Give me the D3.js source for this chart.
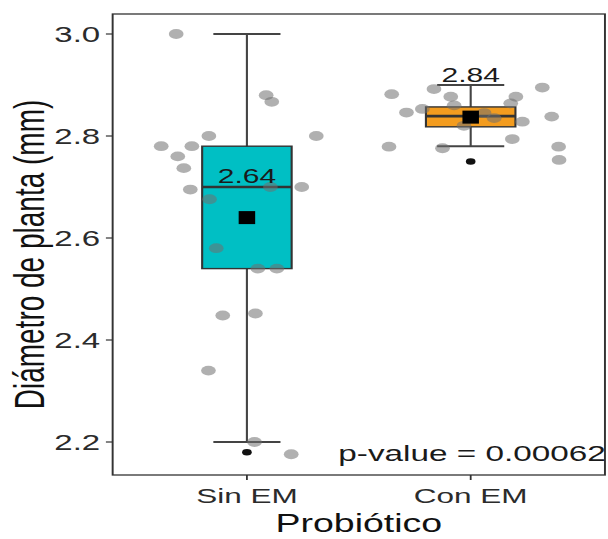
<!DOCTYPE html>
<html>
<head>
<meta charset="utf-8">
<script src="https://cdn.jsdelivr.net/npm/d3@7"></script>
<style>
  body { margin: 0; background: #fff; }
  text { font-family: "Liberation Sans", Arial, sans-serif; }
</style>
</head>
<body>
<div id="chart"></div>
<script>
  // groups and labels
  const groups = ["Sin EM", "Con EM"];
  const fills = ["#00BFC4", "#F39C1F"];
  const yTicks = [2.2, 2.4, 2.6, 2.8, 3.0];

  // raw observations (diameter, mm) and jitter offset (in group units)
  const sinValues = [3.00, 2.88, 2.867, 2.80, 2.80, 2.78, 2.78, 2.76, 2.737, 2.695, 2.70,
                     2.70, 2.676, 2.58, 2.54, 2.54, 2.448, 2.452, 2.34, 2.20, 2.176];
  const sinJitter = [-0.316, 0.086, 0.111, -0.17, 0.31, -0.383, -0.246, -0.309, -0.282, -0.253, 0.105,
                     0.245, -0.167, -0.137, 0.049, 0.134, -0.108, 0.038, -0.172, 0.034, 0.198];
  const conValues = [2.882, 2.892, 2.877, 2.877, 2.895, 2.846, 2.853, 2.864, 2.838, 2.828, 2.794,
                     2.779, 2.776, 2.779, 2.753, 2.86, 2.835, 2.82, 2.845];
  const conJitter = [-0.353, -0.164, -0.089, 0.202, 0.32, -0.287, -0.216, 0.179, 0.362, 0.231, 0.186,
                     -0.365, -0.126, 0.393, 0.395, -0.074, 0.105, -0.03, 0.06];

  // box summaries
  const q1 = [2.54, 2.818];
  const medians = [2.70, 2.839];
  const q3 = [2.78, 2.857];
  const whiskLo = [2.20, 2.78];
  const whiskHi = [3.00, 2.90];
  const means = [2.64, 2.837];
  const meanLabels = ["2.64", "2.84"];
  const outliers = [[2.18], [2.75]];
  const pText = "p-value = 0.00062";

  // the reference is stretched horizontally, so draw in a narrow frame and scale
  const SX = 1.5;
  const W = 608, H = 539;
  const panel = {left: 75.1, right: 403.3, top: 14, bottom: 475};

  const svg = d3.select("#chart").append("svg")
    .attr("width", W).attr("height", H);
  const g = svg.append("g").attr("transform", "scale(" + SX + ",1)");

  const x = d3.scalePoint().domain(groups)
    .range([panel.left, panel.right]).padding(0.6);
  const step = x.step();
  const y = d3.scaleLinear().domain([2.2, 3.0]).range([442, 34]);

  // panel
  g.append("rect")
    .attr("x", panel.left).attr("y", panel.top)
    .attr("width", panel.right - panel.left).attr("height", panel.bottom - panel.top)
    .attr("fill", "#fff").attr("stroke", "#333").attr("stroke-width", 1.3);

  const pts = [
    sinValues.map((v, i) => ({g: groups[0], v: v, j: sinJitter[i]})),
    conValues.map((v, i) => ({g: groups[1], v: v, j: conJitter[i]}))
  ];

  groups.forEach(function(grp, i) {
    const cx = x(grp);
    const bw = step * 0.4, cw = step * 0.3;

    // whiskers
    g.append("line")
      .attr("x1", cx).attr("x2", cx)
      .attr("y1", y(whiskLo[i])).attr("y2", y(whiskHi[i]))
      .attr("stroke", "#444").attr("stroke-width", 1.4);
    [whiskLo[i], whiskHi[i]].forEach(function(w) {
      g.append("line")
        .attr("x1", cx - cw / 2).attr("x2", cx + cw / 2)
        .attr("y1", y(w)).attr("y2", y(w))
        .attr("stroke", "#444").attr("stroke-width", 2);
    });

    // box
    g.append("rect")
      .attr("x", cx - bw / 2).attr("width", bw)
      .attr("y", y(q3[i])).attr("height", y(q1[i]) - y(q3[i]))
      .attr("fill", fills[i]).attr("stroke", "#333").attr("stroke-width", 1.4);
    g.append("line")
      .attr("x1", cx - bw / 2).attr("x2", cx + bw / 2)
      .attr("y1", y(medians[i])).attr("y2", y(medians[i]))
      .attr("stroke", "#333").attr("stroke-width", 2.6);

    // outliers
    g.selectAll(null).data(outliers[i]).enter().append("circle")
      .attr("cx", cx).attr("cy", d => y(d)).attr("r", 3.2)
      .attr("fill", "#111");

    // jittered observations
    g.selectAll(null).data(pts[i]).enter().append("circle")
      .attr("cx", d => cx + d.j * step)
      .attr("cy", d => y(d.v))
      .attr("r", 4.9)
      .attr("fill", "#6f6f6f")
      .attr("fill-opacity", 0.55);

    // mean marker
    g.append("rect")
      .attr("x", cx - 5.5).attr("y", y(means[i]) - 6.5)
      .attr("width", 11).attr("height", 13)
      .attr("fill", "#000");

    // mean label
    g.append("text")
      .attr("x", cx).attr("y", y(means[i]) - 35)
      .attr("text-anchor", "middle")
      .attr("font-size", 20).attr("fill", "#1a1a1a")
      .text(meanLabels[i]);
  });

  // y axis ticks and labels
  yTicks.forEach(function(t) {
    g.append("line")
      .attr("x1", panel.left - 4.5).attr("x2", panel.left)
      .attr("y1", y(t)).attr("y2", y(t))
      .attr("stroke", "#333").attr("stroke-width", 1.2);
    g.append("text")
      .attr("x", panel.left - 8.3).attr("y", y(t)).attr("dy", "0.36em")
      .attr("text-anchor", "end").attr("font-size", 22).attr("fill", "#2b2b2b")
      .text(t.toFixed(1));
  });

  // x axis ticks and labels
  groups.forEach(function(grp) {
    g.append("line")
      .attr("x1", x(grp)).attr("x2", x(grp))
      .attr("y1", panel.bottom).attr("y2", panel.bottom + 5)
      .attr("stroke", "#333").attr("stroke-width", 1.2);
    g.append("text")
      .attr("x", x(grp)).attr("y", 503)
      .attr("text-anchor", "middle").attr("font-size", 21).attr("fill", "#2b2b2b")
      .text(grp);
  });

  // axis titles
  g.append("text")
    .attr("x", (panel.left + panel.right) / 2).attr("y", 532)
    .attr("text-anchor", "middle").attr("font-size", 25).attr("fill", "#111")
    .text("Probiótico");
  g.append("text")
    .attr("transform", "translate(29.5," + ((panel.top + panel.bottom) / 2 + 10) + ") rotate(-90)")
    .attr("text-anchor", "middle").attr("font-size", 28).attr("fill", "#111")
    .text("Diámetro de planta (mm)");

  // p-value annotation
  g.append("text")
    .attr("x", panel.right + 0.5).attr("y", 461)
    .attr("text-anchor", "end").attr("font-size", 22.2).attr("fill", "#1a1a1a")
    .text(pText);
</script>
</body>
</html>
